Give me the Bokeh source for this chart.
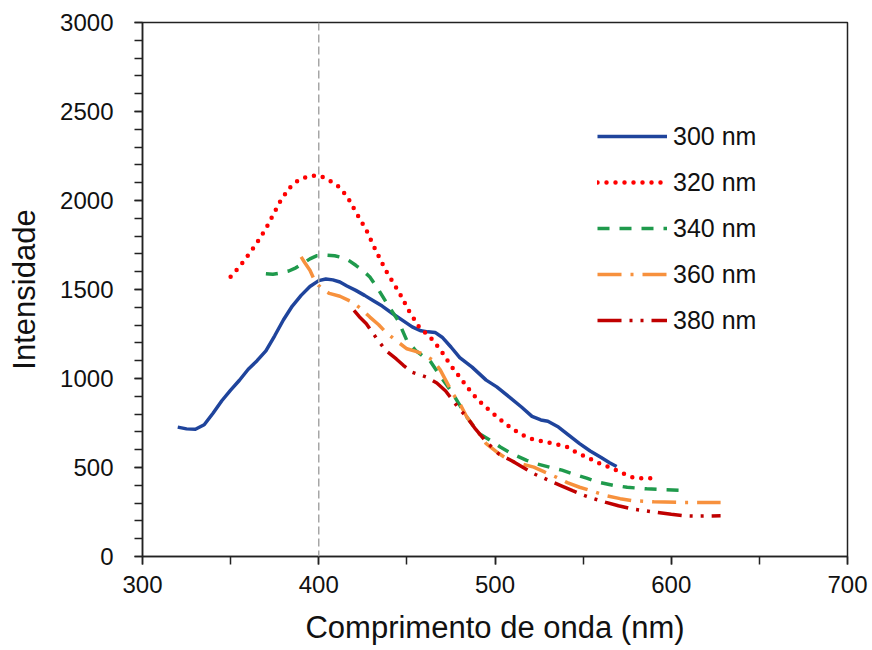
from bokeh.plotting import figure
from bokeh.models import (Range1d, SingleIntervalTicker, Legend, LegendItem, Span)
from bokeh.embed import file_html
from bokeh.resources import INLINE

# ---- data ----
wl_300 = [320, 325, 330, 335, 340, 345, 350, 355, 360, 365, 370, 375, 380, 385, 390, 395, 400, 404, 408,
          412, 416, 421, 426, 431, 436, 442, 448, 453, 458, 462, 466, 470, 475, 480, 487, 495, 501, 508,
          515, 521, 526, 530, 536, 542, 548, 554, 560, 565, 569]
int_300 = [727, 717, 715, 740, 805, 875, 935, 990, 1052, 1100, 1155, 1240, 1330, 1407, 1467, 1517, 1550,
           1559, 1554, 1542, 1520, 1495, 1467, 1437, 1407, 1364, 1324, 1290, 1268, 1262, 1259, 1232, 1177,
           1117, 1064, 991, 953, 897, 840, 787, 767, 760, 727, 680, 634, 593, 558, 527, 506]

wl_320 = [350, 355, 360, 365, 370, 374, 378, 383, 387, 390, 395, 400, 403, 406, 411, 416, 421, 427, 432,
          438, 446, 451, 457, 461, 465, 470, 475, 480, 487, 493, 499, 506, 514, 521, 529, 535, 541, 546,
          552, 560, 567, 573, 578, 584, 590]
int_320 = [1572, 1628, 1693, 1763, 1842, 1917, 1992, 2067, 2104, 2122, 2139, 2139, 2129, 2113, 2080, 2025,
           1936, 1834, 1727, 1608, 1477, 1383, 1288, 1252, 1213, 1147, 1072, 1008, 916, 855, 803, 745, 690,
           660, 643, 630, 615, 585, 558, 520, 493, 465, 445, 438, 440]

wl_340 = [370, 374, 378, 383, 387, 391, 395, 399, 404, 409, 414, 418, 421, 425, 429, 434, 440, 445, 450,
          455, 459, 463, 468, 476, 484, 491, 497, 503, 510, 518, 524, 531, 538, 544, 552, 559, 567, 575,
          586, 597, 609]
int_340 = [1589, 1586, 1592, 1604, 1622, 1646, 1672, 1690, 1693, 1690, 1678, 1657, 1636, 1607, 1570, 1497,
           1401, 1326, 1213, 1157, 1127, 1101, 1027, 916, 784, 690, 655, 615, 575, 540, 520, 502, 485, 465,
           440, 417, 400, 389, 380, 375, 371]

wl_360 = [390, 392, 395, 398, 402, 406, 412, 419, 424, 429, 434, 438, 444, 450, 455, 459, 465, 469, 472,
          476, 480, 484, 490, 495, 502, 508, 515, 522, 528, 535, 541, 548, 556, 563, 571, 578, 590, 607, 628]
int_360 = [1683, 1652, 1608, 1542, 1502, 1478, 1462, 1429, 1392, 1345, 1302, 1260, 1212, 1167, 1152, 1138,
           1101, 1047, 991, 916, 859, 784, 705, 634, 580, 540, 520, 502, 475, 445, 415, 389, 365, 342, 325,
           314, 307, 304, 304]

wl_380 = [420, 423, 427, 432, 438, 444, 448, 453, 461, 467, 472, 476, 480, 484, 489, 495, 502, 510, 516,
          522, 530, 537, 544, 550, 556, 563, 570, 578, 590, 600, 607, 615, 628]
int_380 = [1383, 1347, 1308, 1237, 1157, 1110, 1074, 1035, 1008, 975, 930, 878, 825, 784, 715, 645, 577,
           535, 500, 465, 430, 400, 370, 345, 325, 304, 285, 267, 250, 237, 229, 227, 229]

labels = ["300 nm", "320 nm", "340 nm", "360 nm", "380 nm"]
x_ticks = [300, 400, 500, 600, 700]
y_ticks = [0, 500, 1000, 1500, 2000, 2500, 3000]
marker_wl = 400

FONT = "Liberation Sans"
TXT = "#111111"
AX = "#222222"

p = figure(width=872, height=650, output_backend="svg", toolbar_location=None,
           x_range=Range1d(300, 700), y_range=Range1d(0, 3000),
           min_border_left=142, min_border_right=25, min_border_top=22, min_border_bottom=94)
p.background_fill_color = "white"
p.border_fill_color = "white"
p.grid.visible = False
p.outline_line_color = AX
p.outline_line_width = 1.5

p.xaxis.ticker = SingleIntervalTicker(interval=100, num_minor_ticks=2)
p.yaxis.ticker = SingleIntervalTicker(interval=500, num_minor_ticks=5)
for ax in (p.xaxis[0], p.yaxis[0]):
    ax.axis_line_color = AX
    ax.axis_line_width = 1.5
    ax.major_tick_line_color = AX
    ax.minor_tick_line_color = AX
    ax.major_tick_line_width = 1.5
    ax.minor_tick_line_width = 1.5
    ax.major_tick_in = 0
    ax.minor_tick_in = 0
    ax.major_tick_out = 8
    ax.minor_tick_out = 8
    ax.major_label_text_font = FONT
    ax.major_label_text_font_size = "24px"
    ax.major_label_text_color = TXT
    ax.axis_label_text_font = FONT
    ax.axis_label_text_font_size = "31px"
    ax.axis_label_text_font_style = "normal"
    ax.axis_label_text_color = TXT
p.xaxis.axis_label = "Comprimento de onda (nm)"
p.yaxis.axis_label = "Intensidade"
p.xaxis.major_label_standoff = 11
p.xaxis.axis_label_standoff = 14
p.yaxis.major_label_standoff = 21
p.yaxis.axis_label_standoff = 15
p.yaxis.major_label_orientation = "horizontal"

p.add_layout(Span(location=marker_wl, dimension="height", line_color="#a6a6a6",
                  line_width=1.5, line_dash="8 4"))

r1 = p.line(wl_300, int_300, line_color="#1f449c", line_width=3.5, line_join="round")
r2 = p.line(wl_320, int_320, line_color="#ff0000", line_width=4.5, line_dash="0 9",
            line_cap="round", line_join="round")
r3 = p.line(wl_340, int_340, line_color="#1f9a4c", line_width=3.5, line_dash="12 10")
r4 = p.line(wl_360, int_360, line_color="#f7913d", line_width=3.5, line_dash="24 9 3 9")
r5 = p.line(wl_380, int_380, line_color="#c00000", line_width=3.5, line_dash="24 8 3 8 3 8")

legend = Legend(items=[LegendItem(label=l, renderers=[r]) for l, r in
                       zip(labels, [r1, r2, r3, r4, r5])],
                location=(455, 221), orientation="vertical",
                glyph_width=70, glyph_height=30, label_height=30, label_standoff=6,
                spacing=16, padding=0, margin=0,
                border_line_color=None, background_fill_alpha=0,
                label_text_font=FONT, label_text_font_size="25px", label_text_color=TXT)
p.add_layout(legend)

open("out.html", "w").write(file_html(p, INLINE))
